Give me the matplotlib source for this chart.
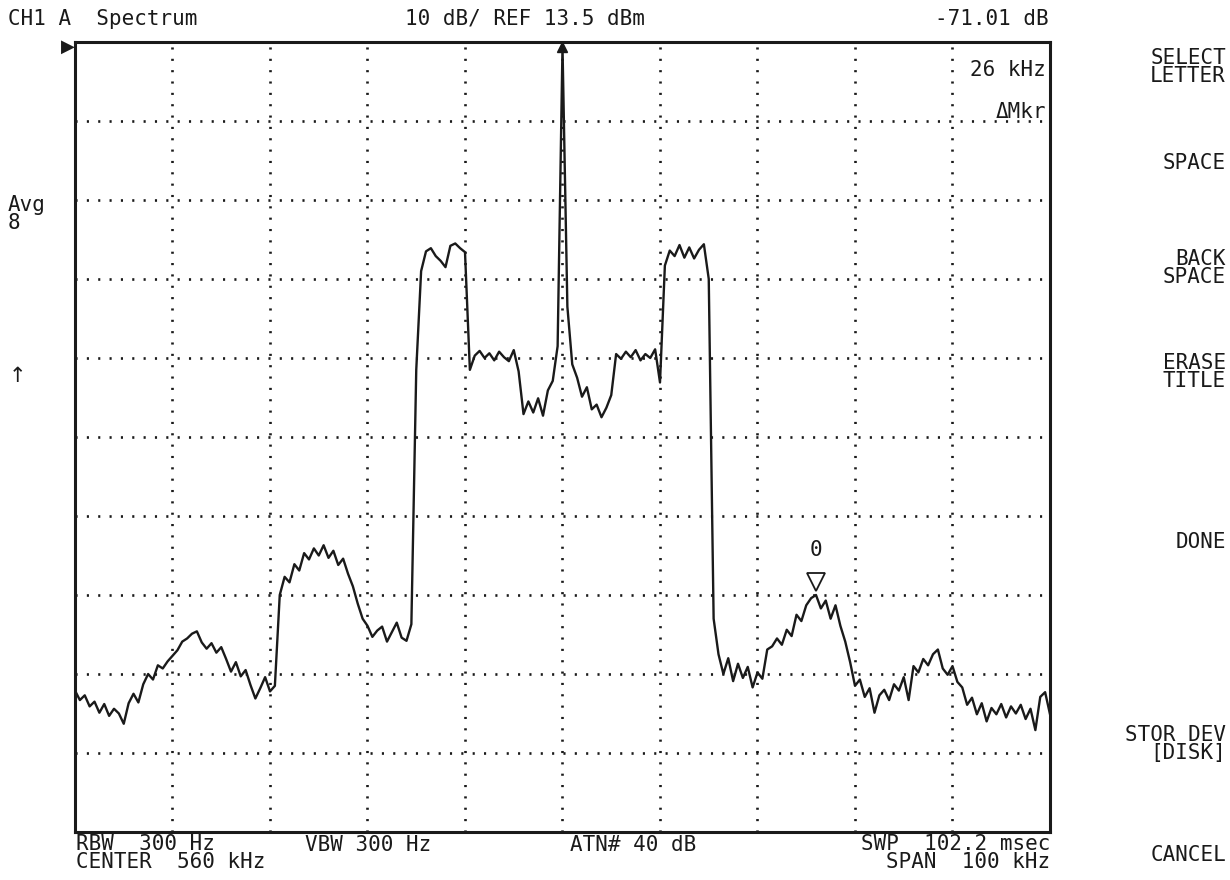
import numpy as np
import matplotlib
matplotlib.use('Agg')
import matplotlib.pyplot as plt

CENTER_KHZ = 560.0
SPAN_KHZ = 100.0
REF_DBM = 13.5
DB_PER_DIV = 10.0

# nível do traço (dBm), amostrado a cada 0.5 kHz de 510 a 610 kHz
level_dbm = [
    -68.6, -69.8, -69.2, -70.6, -70.0, -71.4, -70.3, -71.8, -70.9, -71.5,
    -72.8, -70.2, -69.0, -70.1, -67.8, -66.5, -67.2, -65.4, -65.8, -64.9,
    -64.2, -63.5, -62.4, -62.0, -61.4, -61.1, -62.5, -63.3, -62.6, -63.8,
    -63.1, -64.6, -66.2, -65.0, -66.8, -66.0, -67.9, -69.6, -68.3, -66.9,
    -68.7, -68.0, -56.5, -54.2, -54.9, -52.6, -53.4, -51.2, -52.0, -50.6,
    -51.5, -50.2, -51.8, -50.9, -52.7, -51.9, -53.8, -55.4, -57.6, -59.5,
    -60.4, -61.8, -61.0, -60.5, -62.4, -61.2, -60.0, -61.9, -62.3, -60.2,
    -28.0, -15.5, -13.0, -12.6, -13.6, -14.2, -15.0, -12.3, -12.0, -12.6,
    -13.1, -28.0, -26.2, -25.6, -26.5, -25.9, -26.8, -25.7, -26.4, -26.9,
    -25.5, -28.2, -33.6, -32.0, -33.4, -31.6, -33.8, -30.6, -29.4, -25.0,
    12.9, -20.0, -27.3, -29.0, -31.4, -30.2, -33.0, -32.4, -34.0, -32.8,
    -31.2, -26.0, -26.6, -25.7, -26.4, -25.5, -26.8, -26.0, -26.5, -25.4,
    -29.6, -14.8, -12.9, -13.6, -12.2, -13.8, -12.5, -13.9, -12.8, -12.1,
    -16.5, -59.5, -64.0, -66.5, -64.5, -67.4, -65.2, -67.0, -65.6, -68.2,
    -66.3, -67.1, -63.4, -63.0, -62.0, -62.8, -60.9, -61.7, -59.0, -59.8,
    -57.8, -56.9, -56.5, -58.2, -57.2, -59.5, -57.8, -60.4, -62.4, -65.0,
    -68.0, -67.2, -69.4, -68.3, -71.4, -69.2, -68.5, -69.8, -67.8, -68.6,
    -66.9, -69.8, -65.5, -66.3, -64.6, -65.4, -64.0, -63.4, -65.8, -66.6,
    -65.5, -67.5, -68.2, -70.4, -69.5, -71.6, -70.2, -72.5, -70.8, -71.6,
    -70.3, -72.0, -70.6, -71.5, -70.4, -72.2, -70.9, -73.6, -69.4, -68.8,
    -71.6,
]

marker_khz = 586.0
marker_dbm = -56.5

header_left = "CH1 A  Spectrum"
header_mid = "10 dB/ REF 13.5 dBm"
header_right = "-71.01 dB"
footer_left = "RBW  300 Hz\nCENTER  560 kHz"
footer_vbw = "VBW 300 Hz"
footer_atn = "ATN# 40 dB"
footer_right = "SWP  102.2 msec\nSPAN  100 kHz"
softkeys = [
    ("SELECT\nLETTER", 67),
    ("SPACE", 163),
    ("BACK\nSPACE", 268),
    ("ERASE\nTITLE", 372),
    ("DONE", 542),
    ("STOR DEV\n[DISK]", 744),
    ("CANCEL", 855),
]

INK = '#1a1a1a'
FONT = 'DejaVu Sans Mono'
FS = 15
LS = 0.86

W, H = 1230, 880
fig = plt.figure(figsize=(W / 100, H / 100), dpi=100)
fig.patch.set_facecolor('white')

# área do gráfico em píxeis: x 75..1050, y 42..832
ax = fig.add_axes([75 / W, (H - 832) / H, 975 / W, 790 / H])
f_lo = CENTER_KHZ - SPAN_KHZ / 2
f_hi = CENTER_KHZ + SPAN_KHZ / 2
y_hi = REF_DBM
y_lo = REF_DBM - 10 * DB_PER_DIV
ax.set_xlim(f_lo, f_hi)
ax.set_ylim(y_lo, y_hi)

freq = np.linspace(f_lo, f_hi, len(level_dbm))

# grelha pontilhada (10 x 10 divisões)
for k in range(1, 10):
    ax.axvline(f_lo + k * SPAN_KHZ / 10, color=INK, lw=1.9,
               ls=(0, (0.8, 3.5)), zorder=1)
    ax.axhline(y_hi - k * DB_PER_DIV, color=INK, lw=1.9,
               ls=(0, (0.8, 3.5)), zorder=1)

ax.plot(freq, level_dbm, color=INK, lw=1.7, zorder=3)

# marcador de pico no topo e marcador delta "0"
ax.plot([freq[int(np.argmax(level_dbm))]], [max(level_dbm)], marker='^',
        ms=7, color=INK, zorder=4, clip_on=False)
ax.plot([marker_khz], [marker_dbm + 1.6], marker='v', ms=13, mfc='white',
        mec=INK, mew=1.3, zorder=5)
ax.text(marker_khz, marker_dbm + 4.4, "0", ha='center', va='bottom',
        family=FONT, fontsize=FS, color=INK)

ax.text(0.996, 0.965, "26 kHz", transform=ax.transAxes, ha='right',
        va='center', family=FONT, fontsize=FS, color=INK)
ax.text(0.996, 0.912, "\u0394Mkr", transform=ax.transAxes, ha='right',
        va='center', family=FONT, fontsize=FS, color=INK)

ax.set_xticks([])
ax.set_yticks([])
for sp in ax.spines.values():
    sp.set_linewidth(2.2)
    sp.set_color(INK)

# indicador do nível de referência
fig.text(61 / W, 1 - 47 / H, "\u25B6", ha='left', va='center',
         fontsize=13, color=INK, family='DejaVu Sans')


def px_text(x, y, s, ha='left', size=FS):
    fig.text(x / W, 1 - y / H, s, ha=ha, va='center', family=FONT,
             fontsize=size, color=INK, linespacing=LS, multialignment=ha)


px_text(8, 19, header_left)
px_text(525, 19, header_mid, ha='center')
px_text(1049, 19, header_right, ha='right')

px_text(76, 853, footer_left)
px_text(305, 845, footer_vbw)
px_text(570, 845, footer_atn)
px_text(1050, 853, footer_right, ha='right')

px_text(8, 214, "Avg\n8")
fig.text(9 / W, 1 - 376 / H, "\u2191", ha='left', va='center',
         family='DejaVu Sans', fontsize=FS, color=INK)

for label, yc in softkeys:
    px_text(1226, yc, label, ha='right')

fig.savefig('out.png', dpi=100, facecolor='white')
